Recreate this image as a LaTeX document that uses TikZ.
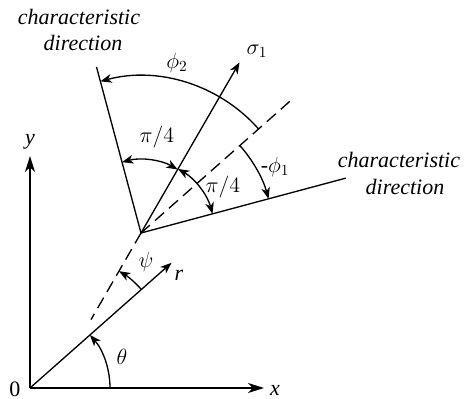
\RequirePackage{fix-cm}
\documentclass[tikz,border=0pt]{standalone}
\usepackage{fontspec}
\setmainfont{Liberation Serif}
\usetikzlibrary{arrows.meta,calc}
\begin{document}
\begin{tikzpicture}[x=0.75pt,y=0.75pt,line width=1pt,
  tipend/.style={-{Stealth[length=8.5pt,width=6.5pt,inset=2.5pt]}},
  tipboth/.style={{Stealth[length=8.5pt,width=6.5pt,inset=2.5pt]}-{Stealth[length=8.5pt,width=6.5pt,inset=2.5pt]}},
  axis/.style={line width=1.4pt,-{Stealth[length=12pt,width=7.5pt,inset=3.5pt]}},
  lbl/.style={font=\fontsize{16.5}{20}\selectfont,inner sep=0pt},
  ilbl/.style={font=\fontsize{16.5}{20}\selectfont\itshape,inner sep=0pt},
  dsh/.style={dash pattern=on 9pt off 5pt}]
\useasboundingbox (0,0) rectangle (467,-399);
% main points
\coordinate (O) at (30,-388);
\coordinate (X) at (264,-388);
\coordinate (Y) at (30,-156);
\coordinate (R) at ($(O)+(41.5:141.75pt)$);
\coordinate (P) at (141,-233);
\coordinate (S) at ($(P)+(60:147.75pt)$);
\coordinate (D1) at ($(P)+(240:75pt)$);
\coordinate (D2) at ($(P)+(41.5:152.25pt)$);
\coordinate (CL) at ($(P)+(105:129pt)$);
\coordinate (CR) at ($(P)+(15:159pt)$);
\coordinate (C) at (intersection of O--R and D1--S);
% axes
\draw[axis] (O) -- (X);
\draw[axis] (O) -- (Y);
\draw[tipend] (O) -- (R);
% lines at P
\draw[tipend] (P) -- (S);
\draw[dsh] (P) -- (D1);
\draw[dsh] (P) -- (D2);
\draw (P) -- (CL);
\draw (P) -- (CR);
% arcs
\draw[tipend] ($(O)+(0:60pt)$) arc[start angle=0,end angle=41.5,radius=60pt];
\draw[tipend] ($(C)+(41.5:67.5pt)$) arc[start angle=41.5,end angle=60,radius=67.5pt];
\draw[tipend] ($(P)+(41.5:117.75pt)$) arc[start angle=41.5,end angle=105,radius=117.75pt];
\draw[tipend] ($(P)+(41.5:99pt)$) arc[start angle=41.5,end angle=15,radius=99pt];
\draw[tipboth] ($(P)+(60:55pt)$) arc[start angle=60,end angle=105,radius=55pt];
\draw[tipboth] ($(P)+(60:55.5pt)$) arc[start angle=60,end angle=15,radius=55.5pt];
% labels
\node[lbl] (l0) at (15,-389) {0};
\node[ilbl] (lx) at (275,-390) {x};
\node[ilbl] (ly) at (30,-142) {y};
\node[lbl] (lth) at (122,-357) {$\theta$};
\node[ilbl] (lr) at (179,-275) {r};
\node[lbl] (lpsi) at (146,-262) {$\psi$};
\node[lbl] (lphi2) at (177,-63) {$\phi_2$};
\node[lbl] (lsig) at (257,-51) {$\sigma_1$};
\node[lbl] (lpa) at (157,-137) {$\pi/4$};
\node[lbl] (lpb) at (223,-187) {$\pi/4$};
\node[lbl] (lphi1) at (275,-167) {-$\phi_1$};
\node[ilbl] (tl1) at (79,-17) {characteristic};
\node[ilbl] (tl2) at (83,-43) {direction};
\node[ilbl] (tr1) at (399,-160) {characteristic};
\node[ilbl] (tr2) at (405,-187) {direction};
\end{tikzpicture}
\end{document}
